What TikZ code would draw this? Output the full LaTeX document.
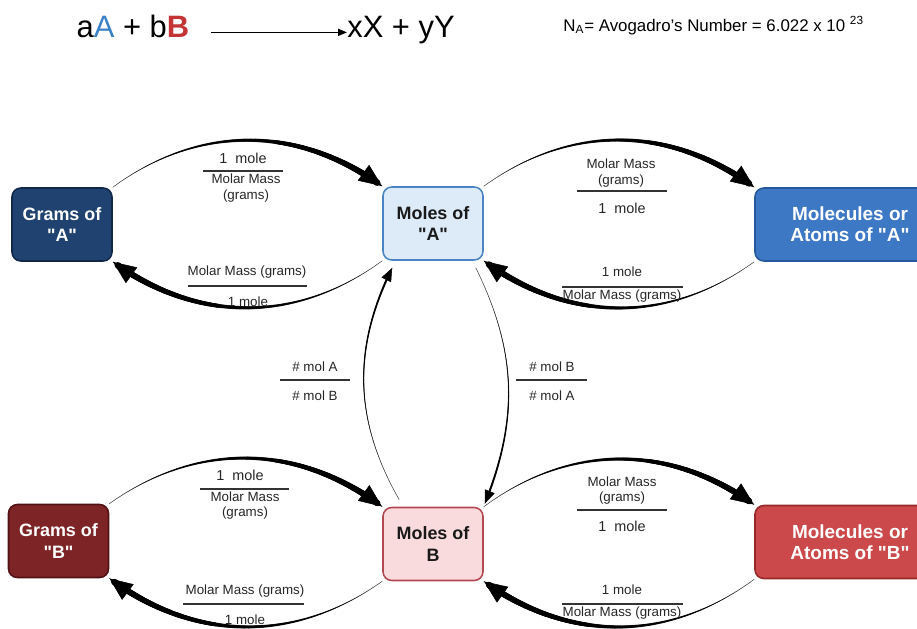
\documentclass[tikz,border=0pt]{standalone}
\usepackage{fontspec}
\setmainfont{Liberation Sans}
\usetikzlibrary{arrows.meta,decorations.markings,calc}
\definecolor{mynavy}{RGB}{31,66,112}
\definecolor{mynavyline}{RGB}{18,40,72}
\definecolor{mylightblue}{RGB}{221,235,249}
\definecolor{mylightblueline}{RGB}{74,132,194}
\definecolor{myblue}{RGB}{61,120,196}
\definecolor{myblueline}{RGB}{38,88,158}
\definecolor{mymaroon}{RGB}{125,36,38}
\definecolor{mymaroonline}{RGB}{82,18,20}
\definecolor{mypink}{RGB}{250,219,221}
\definecolor{mypinkline}{RGB}{178,72,82}
\definecolor{myred}{RGB}{203,73,74}
\definecolor{myredline}{RGB}{150,40,42}
\definecolor{titleblue}{RGB}{58,130,200}
\definecolor{titlered}{RGB}{196,52,52}

\tikzset{
  box/.style={draw, line width=0.9pt, rounded corners=5pt, align=center,
    font=\fontsize{10.2}{12}\selectfont\bfseries, minimum width=2cm, minimum height=1.46cm},
  widebox/.style={box, minimum width=3.8cm, font=\fontsize{10.8}{12}\selectfont\bfseries},
  lbl/.style={font=\fontsize{7.6}{8.9}\selectfont, text=black!85, inner sep=0pt, align=center},
  rule/.style={line width=0.9pt, black!80},
  % tapered stroke: dots that grow along the path
  taper/.style={postaction={decorate, decoration={markings,
      mark=between positions 0 and 0.97 step 0.4pt with {
        \pgfmathsetmacro\tapr{#1*\pgfkeysvalueof{/pgf/decoration/mark info/distance from start}/\pgfdecoratedpathlength}
        \fill[black] (0,0) circle (\tapr pt);}}}},
  % head put on the unshortened path
  tipmark/.style={postaction={decorate, decoration={markings,
      mark=at position 0.999 with {\arrow[black]{#1}}}}},
  conn/.style={draw=black!70, line width=0.3pt, taper=1.9, tipmark={Triangle[length=13pt,width=11pt]}},
  midconn/.style={draw=black!70, line width=0.3pt, taper=0.7, tipmark={Triangle[length=7.5pt,width=6pt]}}
}

\begin{document}
\begin{tikzpicture}[x=0.02cm, y=-0.02cm]
  \useasboundingbox (0,0) rectangle (917,629);
  \clip (0,0) rectangle (917,629);

  % Reaction
  \node[inner sep=0pt, anchor=base, font=\fontsize{17.6}{20}\selectfont] (lhs) at (133,37)
    {a\textcolor{titleblue}{A} + b\textcolor{titlered}{\textbf{B}}};
  \node[inner sep=0pt, anchor=base, font=\fontsize{17.6}{20}\selectfont] (rhs) at (401,37) {xX + yY};
  \draw[line width=0.6pt, -{Triangle[length=5pt,width=4pt]}, shorten <=12pt] (lhs.mid east) -- (rhs.mid west);

  % Avogadro
  \node[inner sep=0pt, anchor=base west, font=\fontsize{9.6}{11}\selectfont] (avog) at (563,31)
    {N\textsubscript{A}= Avogadro's Number = 6.022 x 10 \textsuperscript{23}};

  % Boxes for A
  \node[box, fill=mynavy, draw=mynavyline, text=white] (gramsA) at (62,224.5)
    {Grams of\\\textquotedbl A\textquotedbl};
  \node[box, fill=mylightblue, draw=mylightblueline, text=black!90] (molesA) at (433,223.5)
    {Moles of\\\textquotedbl A\textquotedbl};
  \node[widebox, fill=myblue, draw=myblueline, text=white] (molecA) at (850,224.5)
    {Molecules or\\Atoms of \textquotedbl A\textquotedbl};

  % Boxes for B
  \node[box, fill=mymaroon, draw=mymaroonline, text=white] (gramsB) at (58.5,541)
    {Grams of\\\textquotedbl B\textquotedbl};
  \node[box, fill=mypink, draw=mypinkline, text=black!90] (molesB) at (433,544) {Moles of\\B};
  \node[widebox, fill=myred, draw=myredline, text=white] (molecB) at (850,542)
    {Molecules or\\Atoms of \textquotedbl B\textquotedbl};

  % Connectors, A row
  \draw[conn] (gramsA.north east) to[bend left=36] (molesA.north west);
  \draw[conn] (molesA.south west) to[bend left=36] (gramsA.south east);
  \draw[conn] (molesA.north east) to[bend left=36] (molecA.north west);
  \draw[conn] (molecA.south west) to[bend left=36] (molesA.south east);

  % Connectors, B row
  \draw[conn] (gramsB.north east) to[bend left=36] (molesB.north west);
  \draw[conn] (molesB.south west) to[bend left=36] (gramsB.south east);
  \draw[conn] (molesB.north east) to[bend left=36] (molecB.north west);
  \draw[conn] (molecB.south west) to[bend left=36] (molesB.south east);

  % Mole ratio connectors
  \draw[midconn] ($(molesB.north west)+(17,-7)$) to[bend left=28] ($(molesA.south west)+(10,7)$);
  \draw[midconn] ($(molesA.south east)+(-8,7)$) to[bend left=24] ($(molesB.north east)+(1,-3)$);

  % Labels, grams A / moles A
  \node[lbl, font=\fontsize{8.2}{9}\selectfont] (ga1) at (243,158) {1 \ mole};
  \draw[rule] (203,171) -- (283,171);
  \node[lbl] (ga2) at (246,188) {Molar Mass\\(grams)};
  \node[lbl] (ag1) at (247,272) {Molar Mass (grams)};
  \draw[rule] (188,286) -- (307,286);
  \node[lbl] (ag2) at (248,302) {1 mole};

  % Labels, moles A / molecules A
  \node[lbl] (am1) at (621,173) {Molar Mass\\(grams)};
  \draw[rule] (577,191) -- (667,191);
  \node[lbl, font=\fontsize{8.2}{9}\selectfont] (am2) at (622,208) {1 \ mole};
  \node[lbl] (ma1) at (622,272) {1 mole};
  \draw[rule] (562,287) -- (683,287);
  \node[lbl] (ma2) at (622,296) {Molar Mass (grams)};

  % Labels, mole ratios
  \node[lbl] (ab1) at (315,367) {\# mol A};
  \draw[rule] (280,380) -- (350,380);
  \node[lbl] (ab2) at (315,396) {\# mol B};
  \node[lbl] (ba1) at (552,367) {\# mol B};
  \draw[rule] (516,380) -- (587,380);
  \node[lbl] (ba2) at (552,396) {\# mol A};

  % Labels, grams B / moles B
  \node[lbl, font=\fontsize{8.2}{9}\selectfont] (gb1) at (240,475) {1 \ mole};
  \draw[rule] (200,489) -- (289,489);
  \node[lbl] (gb2) at (245,505.5) {Molar Mass\\(grams)};
  \node[lbl] (bg1) at (245,591) {Molar Mass (grams)};
  \draw[rule] (183,604) -- (304,604);
  \node[lbl] (bg2) at (245,620) {1 mole};

  % Labels, moles B / molecules B
  \node[lbl] (bm1) at (622,490.5) {Molar Mass\\(grams)};
  \draw[rule] (577,510) -- (667,510);
  \node[lbl, font=\fontsize{8.2}{9}\selectfont] (bm2) at (622,526) {1 \ mole};
  \node[lbl] (mb1) at (622,590) {1 mole};
  \draw[rule] (562,604) -- (683,604);
  \node[lbl] (mb2) at (622,613) {Molar Mass (grams)};
\end{tikzpicture}
\end{document}
